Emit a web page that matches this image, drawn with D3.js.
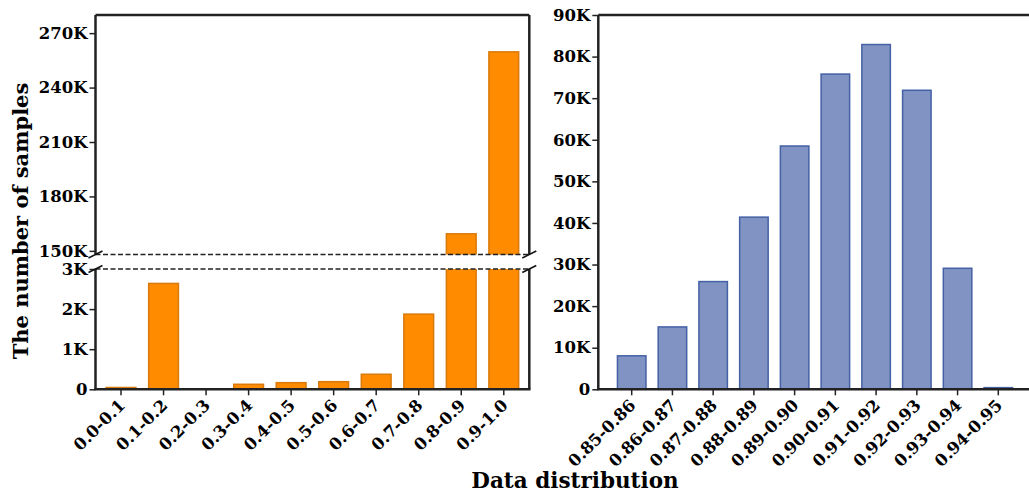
<!DOCTYPE html>
<html>
<head>
<meta charset="utf-8">
<script src="https://cdn.jsdelivr.net/npm/d3@7"></script>
<style>
  html, body { margin: 0; padding: 0; background: #fff; }
  svg text { font-family: "DejaVu Serif", serif; font-weight: bold; fill: #000; }
</style>
</head>
<body>
<svg id="chart" width="1029" height="494"></svg>
<script>
// Coarse bins of the full score range
const coarseBins = ["0.0-0.1", "0.1-0.2", "0.2-0.3", "0.3-0.4", "0.4-0.5",
                    "0.5-0.6", "0.6-0.7", "0.7-0.8", "0.8-0.9", "0.9-1.0"];
const coarseCounts = [45, 2640, 8, 125, 165, 190, 375, 1875, 159400, 259700];

// Fine bins around the peak
const fineBins = ["0.85-0.86", "0.86-0.87", "0.87-0.88", "0.88-0.89", "0.89-0.90",
                  "0.90-0.91", "0.91-0.92", "0.92-0.93", "0.93-0.94", "0.94-0.95"];
const fineCounts = [8050, 15000, 25900, 41400, 58500, 75800, 82900, 71900, 29100, 400];

// Tick values
const upperTicks = [150000, 180000, 210000, 240000, 270000];
const lowerTicks = [0, 1000, 2000, 3000];
const fineTicks = [0, 10000, 20000, 30000, 40000, 50000, 60000, 70000, 80000, 90000];

const yLabel = "The number of samples";
const xLabel = "Data distribution";

const svg = d3.select("#chart");
const kFmt = d => d === 0 ? "0" : (d / 1000) + "K";

const spineColor = "#222";
const spineWidth = 2.5;
const tickFont = "16.5px";

// ---------- left panel (broken y axis) ----------
const L = { left: 95.5, right: 529.3, top: 15, breakTop: 254.5, breakBottom: 269, bottom: 389.3 };

const xL = d3.scaleBand().domain(coarseBins).range([L.left, L.right])
  .paddingInner(0.3).paddingOuter(0.25);
const yUpper = d3.scaleLinear().domain([148000, 280000]).range([L.breakTop, L.top]);
const yLower = d3.scaleLinear().domain([0, 3000]).range([L.bottom, L.breakBottom]);

const defs = svg.append("defs");
defs.append("clipPath").attr("id", "clipUpper").append("rect")
  .attr("x", L.left).attr("y", L.top).attr("width", L.right - L.left).attr("height", L.breakTop - L.top);
defs.append("clipPath").attr("id", "clipLower").append("rect")
  .attr("x", L.left).attr("y", L.breakBottom).attr("width", L.right - L.left).attr("height", L.bottom - L.breakBottom + 1);

const orangeFill = "#ff8c00", orangeEdge = "#d97a0a";

function drawBars(g, yScale, clipId) {
  g.append("g").attr("clip-path", `url(#${clipId})`)
    .selectAll("rect").data(coarseBins).join("rect")
    .attr("x", d => xL(d))
    .attr("width", xL.bandwidth())
    .attr("y", (d, i) => yScale(coarseCounts[i]))
    .attr("height", (d, i) => Math.max(0, yScale.range()[0] - yScale(coarseCounts[i])))
    .attr("fill", orangeFill)
    .attr("stroke", orangeEdge)
    .attr("stroke-width", 1.5);
}
const gL = svg.append("g");
drawBars(gL, yUpper, "clipUpper");
drawBars(gL, yLower, "clipLower");

// y axes for the two halves
function styleAxis(g) {
  g.select(".domain").remove();
  g.selectAll(".tick line").attr("stroke", spineColor).attr("stroke-width", 1.5);
  g.selectAll(".tick text").style("font-size", tickFont).attr("fill", "#000");
}
gL.append("g").attr("transform", `translate(${L.left},0)`)
  .call(d3.axisLeft(yUpper).tickValues(upperTicks).tickFormat(kFmt).tickSize(6).tickPadding(2))
  .call(styleAxis);
gL.append("g").attr("transform", `translate(${L.left},0)`)
  .call(d3.axisLeft(yLower).tickValues(lowerTicks).tickFormat(kFmt).tickSize(6).tickPadding(2))
  .call(styleAxis);

// x axis of the left panel
const xAxisL = gL.append("g").attr("transform", `translate(0,${L.bottom})`)
  .call(d3.axisBottom(xL).tickSize(6).tickFormat(() => ""));
xAxisL.select(".domain").remove();
xAxisL.selectAll(".tick line").attr("stroke", spineColor).attr("stroke-width", 1.5);

function rotatedLabels(g, scale, cats) {
  g.selectAll("text.xl").data(cats).join("text").attr("class", "xl")
    .attr("transform", d => `translate(${scale(d) + scale.bandwidth() / 2 + 5},${L.bottom + 17}) rotate(-45)`)
    .attr("text-anchor", "end")
    .style("font-size", tickFont)
    .text(d => d);
}
rotatedLabels(gL, xL, coarseBins);

// spines of the left panel
const line = (g, x1, y1, x2, y2) => g.append("line")
  .attr("x1", x1).attr("y1", y1).attr("x2", x2).attr("y2", y2)
  .attr("stroke", spineColor).attr("stroke-width", spineWidth);
line(gL, L.left, L.top, L.right, L.top);
line(gL, L.left, L.top, L.left, L.breakTop);
line(gL, L.right, L.top, L.right, L.breakTop);
line(gL, L.left, L.breakBottom, L.left, L.bottom);
line(gL, L.right, L.breakBottom, L.right, L.bottom);
line(gL, L.left - 1.2, L.bottom, L.right + 1.2, L.bottom);

// dashed break lines
[L.breakTop, L.breakBottom].forEach(y => {
  gL.append("line").attr("x1", L.left).attr("x2", L.right).attr("y1", y).attr("y2", y)
    .attr("stroke", "#222").attr("stroke-width", 1.3).attr("stroke-dasharray", "5,2.5");
});
// diagonal break marks
[L.left, L.right].forEach(x => {
  [L.breakTop, L.breakBottom].forEach(y => {
    gL.append("line").attr("x1", x - 7).attr("y1", y + 3.5).attr("x2", x + 7).attr("y2", y - 3.5)
      .attr("stroke", "#111").attr("stroke-width", 1.5);
  });
});

// ---------- right panel ----------
const R = { left: 598.3, right: 1031.7, top: 15, bottom: 389.3 };
const xR = d3.scaleBand().domain(fineBins).range([R.left, R.right])
  .paddingInner(0.3).paddingOuter(0.47);
const yR = d3.scaleLinear().domain([0, 90000]).range([R.bottom, R.top]);

const gR = svg.append("g");
gR.selectAll("rect").data(fineBins).join("rect")
  .attr("x", d => xR(d))
  .attr("width", xR.bandwidth())
  .attr("y", (d, i) => yR(fineCounts[i]))
  .attr("height", (d, i) => R.bottom - yR(fineCounts[i]))
  .attr("fill", "#8093c2")
  .attr("stroke", "#4461a6")
  .attr("stroke-width", 1.5);

gR.append("g").attr("transform", `translate(${R.left},0)`)
  .call(d3.axisLeft(yR).tickValues(fineTicks).tickFormat(kFmt).tickSize(6).tickPadding(2))
  .call(styleAxis);
const xAxisR = gR.append("g").attr("transform", `translate(0,${R.bottom})`)
  .call(d3.axisBottom(xR).tickSize(6).tickFormat(() => ""));
xAxisR.select(".domain").remove();
xAxisR.selectAll(".tick line").attr("stroke", spineColor).attr("stroke-width", 1.5);
rotatedLabels(gR, xR, fineBins);

line(gR, R.left, R.top, R.right, R.top);
line(gR, R.left, R.top, R.left, R.bottom);
line(gR, R.right, R.top, R.right, R.bottom);
line(gR, R.left - 1.2, R.bottom, R.right, R.bottom);

// ---------- axis titles ----------
svg.append("text")
  .attr("transform", "translate(28,221) rotate(-90)")
  .attr("text-anchor", "middle")
  .style("font-size", "21px")
  .text(yLabel);
svg.append("text")
  .attr("x", 575).attr("y", 488)
  .attr("text-anchor", "middle")
  .style("font-size", "21.5px")
  .text(xLabel);
</script>
</body>
</html>
